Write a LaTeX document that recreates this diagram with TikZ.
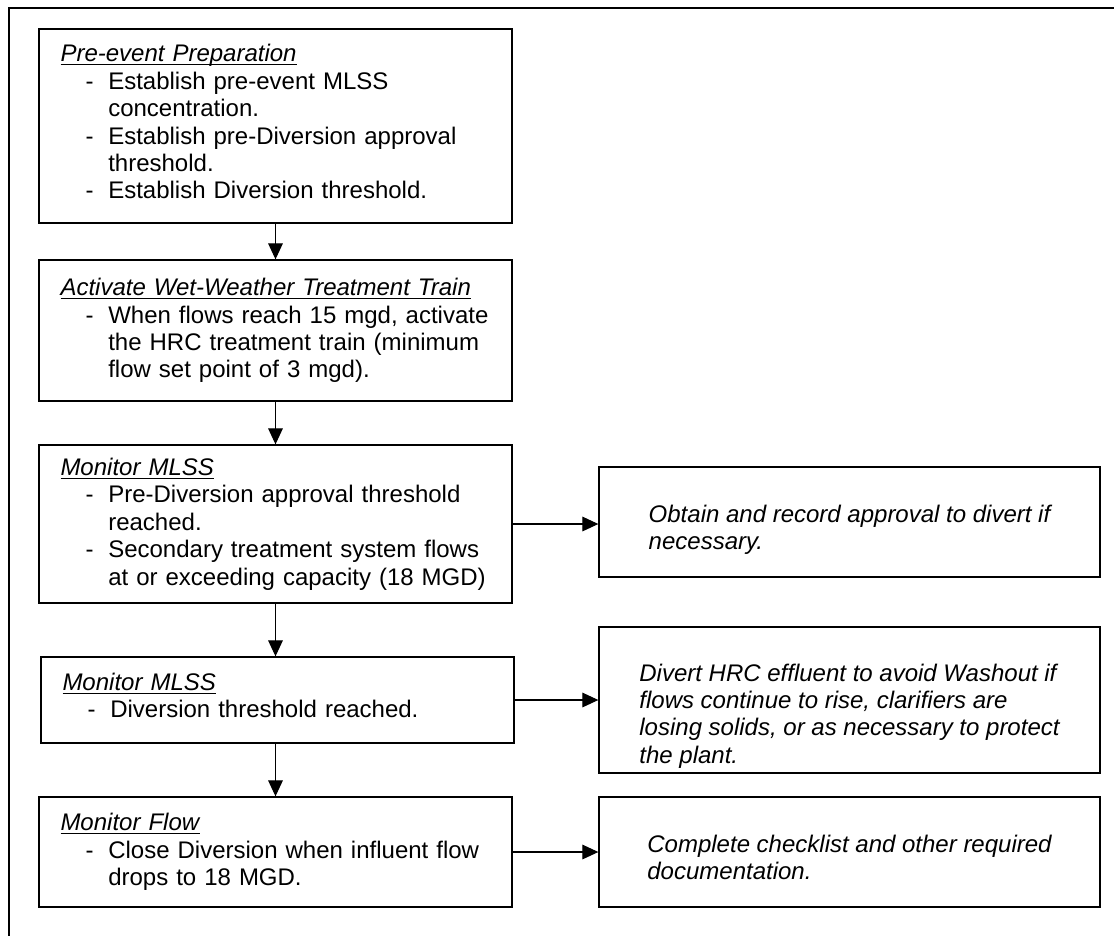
\documentclass[tikz,border=0pt]{standalone}
\usepackage{fontspec}
\setmainfont{Liberation Sans}
\usetikzlibrary{arrows.meta}
\newsavebox{\titlebox}
\newcommand{\steptitle}[1]{\sbox{\titlebox}{\textit{#1}}\rlap{\rule[-2.6pt]{\wd\titlebox}{0.9pt}}\usebox{\titlebox}}
\newcommand{\dashitem}{\hspace*{18.9pt}\makebox[16.95pt][l]{-}}
\newcommand{\dashcont}{\hspace*{35.85pt}}
\newcommand{\notetop}[1]{\rule{0pt}{#1}}
\newcommand{\stepbottom}[1]{\rule[-#1]{0pt}{#1}}

\begin{document}
\begin{tikzpicture}[x=0.75pt,y=-0.75pt,
		stepbox/.style={draw,line width=1pt,align=left,minimum width=354.75pt,inner xsep=16.1pt,text width=322.5pt,font=\fontsize{18pt}{20.55pt}\selectfont},
		notebox/.style={draw,line width=1pt,align=left,minimum width=375.75pt,font=\fontsize{18pt}{20.55pt}\selectfont\itshape},
		stepflow/.style={-{Triangle[length=12pt,width=11pt]},line width=0.8pt}]
			\useasboundingbox (0,0) rectangle (1114,936);
			\draw[line width=1pt] (1114,8) -- (9,8) -- (9,936);
			\node[stepbox,minimum height=145.5pt] (prep) at (275.5,126) {\steptitle{Pre-event Preparation}\\
				\dashitem Establish pre-event MLSS\\
				\dashcont concentration.\\
				\dashitem Establish pre-Diversion approval\\
				\dashcont threshold.\\
				\dashitem Establish Diversion threshold.\stepbottom{6.3pt}};
			\node[stepbox,minimum height=105.75pt] (wet) at (275.5,330.5) {\steptitle{Activate Wet-Weather Treatment Train}\\
				\dashitem When flows reach 15 mgd, activate\\
				\dashcont the HRC treatment train (minimum\\
				\dashcont flow set point of 3 mgd).};
			\node[stepbox,minimum height=118.5pt] (mlssA) at (275.5,524) {\steptitle{Monitor MLSS}\\
				\dashitem Pre-Diversion approval threshold\\
				\dashcont reached.\\
				\dashitem Secondary treatment system flows\\
				\dashcont at or exceeding capacity (18 MGD)};
			\node[stepbox,minimum height=64.5pt] (mlssB) at (277.5,700) {\steptitle{Monitor MLSS}\\
				\dashitem Diversion threshold reached.\stepbottom{6.9pt}};
			\node[stepbox,minimum height=82.5pt] (flow) at (275.5,852) {\steptitle{Monitor Flow}\\
				\dashitem Close Diversion when influent flow\\
				\dashcont drops to 18 MGD.};
			\node[notebox,minimum height=82.5pt] (approve) at (849.5,522) {\notetop{24.3pt}Obtain and record approval to divert if\\
				necessary.};
			\node[notebox,minimum height=109.5pt] (divert) at (849.5,700) {\notetop{37pt}Divert HRC effluent to avoid Washout if\\
				flows continue to rise, clarifiers are\\
				losing solids, or as necessary to protect\\
				the plant.};
			\node[notebox,minimum height=82.5pt] (checklist) at (849.5,852) {\notetop{20.9pt}Complete checklist and other required\\
				documentation.};
			\draw[stepflow] (prep) -- (wet);
			\draw[stepflow] (wet) -- (mlssA);
			\draw[stepflow] (mlssA) -- (mlssA |- mlssB.north);
			\draw[stepflow] (flow |- mlssB.south) -- (flow);
			\draw[stepflow] (mlssA.east) -- (mlssA.east -| approve.west);
			\draw[stepflow] (mlssB.east) -- (mlssB.east -| divert.west);
			\draw[stepflow] (flow.east) -- (flow.east -| checklist.west);
		\end{tikzpicture}
\end{document}
